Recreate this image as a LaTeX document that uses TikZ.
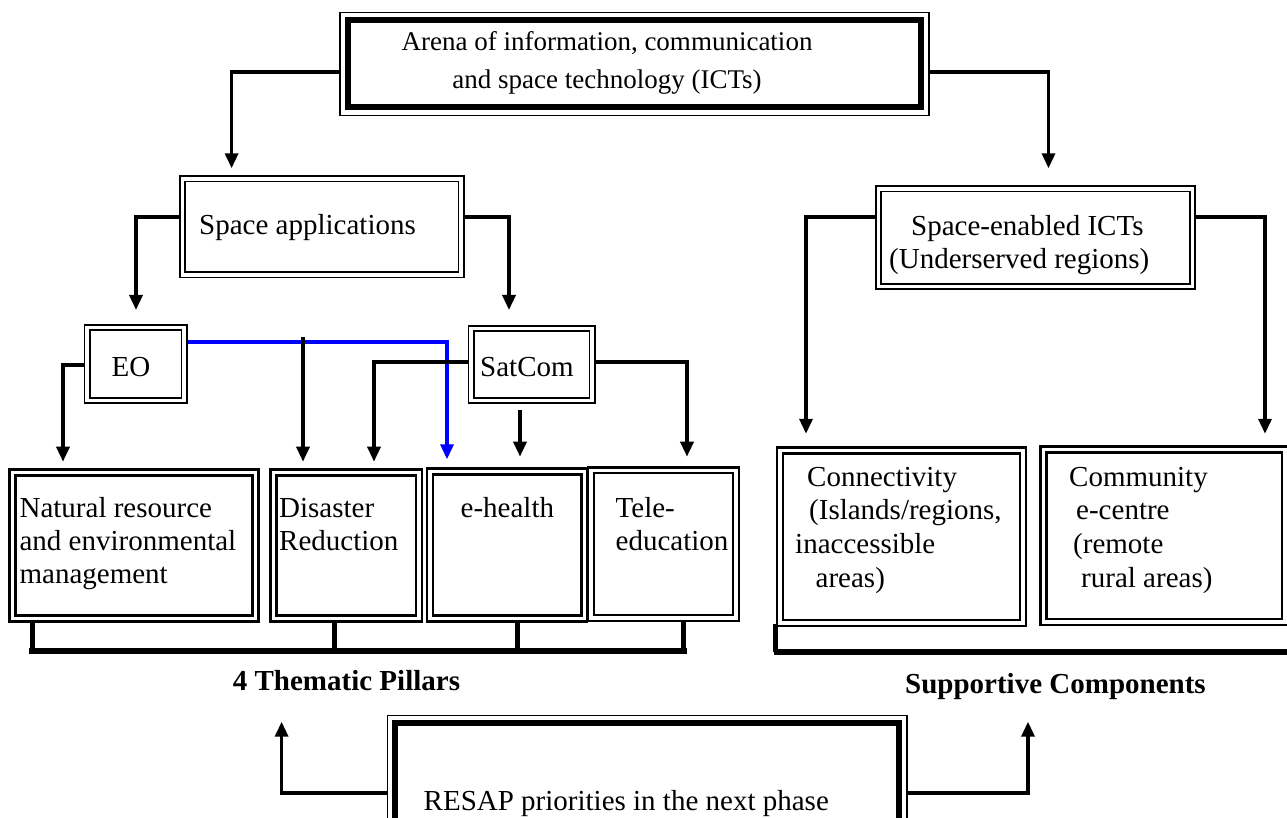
\documentclass[tikz,border=0pt]{standalone}
\usepackage{fontspec}
\setmainfont{Liberation Serif}
\usetikzlibrary{arrows.meta}
\definecolor{linkblue}{HTML}{0000FF}
\tikzset{
  fig/.style={x=1pt,y=1pt,line join=miter,>={Triangle[length=15pt,width=13pt]}},
  heavy/.style={draw,line width=6pt,inner sep=0pt,outer sep=8pt},
  thinrim/.style={draw,line width=1.2pt},
  dbl/.style={draw,line width=1.9pt,double=white,double distance=3.2pt,inner sep=0pt,outer sep=3.5pt},
  pillar/.style={draw,line width=2.4pt,double=white,double distance=3.4pt,inner sep=0pt,outer sep=4.1pt},
  txt/.style={font=\fontsize{29}{33}\selectfont,inner sep=0pt,align=left},
  lbl/.style={font=\fontsize{29}{33}\selectfont\bfseries,inner sep=0pt},
  link/.style={line width=3.4pt,->},
  tick/.style={line width=5pt},
  bar/.style={line width=6pt}
}
\begin{document}
\begin{tikzpicture}[fig]
  \useasboundingbox (0,0) rectangle (1287,817);
  \clip (0,0) rectangle (1287,817);
  % top and bottom boxes
  \node[heavy,minimum width=573,minimum height=87.2] (arena) at (634.5,753.1) {};
  \node[txt,align=center,font=\fontsize{27}{38}\selectfont,anchor=north] (arenatxt) at (607,793.6) {\strut Arena of information, communication\\and space technology (ICTs)};
  \node[heavy,minimum width=503.7,minimum height=126.7] (resap) at (647.2,30.35) {};
  \node[txt,anchor=base west] (resaptxt) at (423.5,7) {RESAP priorities in the next phase};
  \draw[thinrim] (arena.north west) rectangle (arena.south east);
  \draw[thinrim] (resap.north west) rectangle (resap.south east);
  % left branch
  \node[dbl,minimum width=278.5,minimum height=96] (spapp) at (321.75,590) {};
  \node[txt,anchor=base west] (spapptxt) at (199,582) {Space applications};
  \node[dbl,minimum width=97,minimum height=73] (eo) at (135.5,453) {};
  \node[txt,anchor=base west] (eotxt) at (111.5,440.3) {EO};
  \node[dbl,minimum width=121,minimum height=72] (satcom) at (531.5,452.5) {};
  \node[txt,anchor=base west] (satcomtxt) at (480,440.3) {SatCom};
  \node[pillar,minimum width=243,minimum height=146] (nr) at (134,271.5) {};
  \node[txt,anchor=north west] (nrtxt) at (19.4,323.1) {\strut Natural resource\\and environmental\\management};
  \node[pillar,minimum width=145.4,minimum height=146] (dr) at (346.1,271.5) {};
  \node[txt,anchor=north west] (drtxt) at (279,323.1) {\strut Disaster\\Reduction};
  \node[pillar,minimum width=154.4,minimum height=147] (eh) at (507,272) {};
  \node[txt,anchor=north west] (ehtxt) at (460.5,323.1) {\strut e-health};
  \node[pillar,minimum width=145,minimum height=147.6] (te) at (663.5,272.8) {};
  \node[txt,anchor=north west] (tetxt) at (615.5,323.1) {\strut Tele-\\education};
  % right branch
  \node[dbl,minimum width=314,minimum height=97.5] (spen) at (1035.5,579.25) {};
  \node[txt,anchor=north west,font=\fontsize{29}{32.5}\selectfont] (spentxt) at (889,604.25) {\strut\hspace*{22pt}Space-enabled ICTs\\(Underserved regions)};
  \node[pillar,minimum width=243,minimum height=172.5] (cnx) at (901.5,280.25) {};
  \node[txt,anchor=north west,font=\fontsize{29}{33.7}\selectfont] (cnxtxt) at (795,354.6) {\strut\hspace*{12pt}Connectivity\\\hspace*{14pt}(Islands/regions,\\inaccessible\\\hspace*{20.5pt}areas)};
  \node[pillar,minimum width=241.5,minimum height=172.5] (cec) at (1164.25,281.25) {};
  \node[txt,anchor=north west,font=\fontsize{29}{33.7}\selectfont] (cectxt) at (1069,354.6) {\strut Community\\\hspace*{7pt}e-centre\\\hspace*{4pt}(remote\\\hspace*{12pt}rural areas)};
  % arrow ends
  \coordinate (a1) at (231.6,648.7);
  \coordinate (a2) at (1048.5,648.7);
  \coordinate (s1) at (136,507);
  \coordinate (s2) at (509,507);
  \coordinate (e1) at (63,355.3);
  \coordinate (e2) at (447,357.7);
  \coordinate (e3) at (303,480);
  \coordinate (e3t) at (303,355.3);
  \coordinate (c1) at (374,355.3);
  \coordinate (c2) at (520,360.3);
  \coordinate (c3) at (687,360.3);
  \coordinate (n1) at (806,383.2);
  \coordinate (n2) at (1265,383.2);
  \coordinate (r1) at (281.6,95.3);
  \coordinate (r2) at (1028,95.3);
  \draw[link] ([yshift=-8pt]arena.west) -| (a1);
  \draw[link] ([yshift=-8pt]arena.east) -| (a2);
  \draw[link] ([yshift=10pt]spapp.west) -| (s1);
  \draw[link] ([yshift=10pt]spapp.east) -| (s2);
  \draw[link] ([yshift=-1pt]eo.west) -| (e1);
  \draw[link,linkblue] ([yshift=22pt]eo.east) -| (e2);
  \draw[link] (e3) -- (e3t);
  \draw[link] ([yshift=2.5pt]satcom.west) -| (c1);
  \draw[link] ([xshift=-11.5pt,yshift=-6pt]satcom.south) -- (c2);
  \draw[link] ([yshift=2.5pt]satcom.east) -| (c3);
  \draw[link] ([yshift=20.75pt]spen.west) -| (n1);
  \draw[link] ([yshift=20.75pt]spen.east) -| (n2);
  \draw[link] ([yshift=-6.35pt]resap.west) -| (r1);
  \draw[link] ([yshift=-6.35pt]resap.east) -| (r2);
  % brackets
  \draw[tick] ([xshift=-101.5pt]nr.south) -- ++(0,-30);
  \draw[tick] ([xshift=-11.6pt]dr.south) -- ++(0,-30);
  \draw[tick] ([xshift=10.7pt]eh.south) -- ++(0,-30);
  \draw[tick] ([xshift=20pt]te.south) -- ++(0,-30);
  \draw[tick] ([xshift=-126.5pt,yshift=3pt]cnx.south) -- ++(0,-28);
  \draw[bar] (29,166) -- (687,166);
  \draw[bar] (773.5,165) -- (1287,165);
  \node[lbl,anchor=base west] (pillarslbl) at (232.7,127) {4 Thematic Pillars};
  \node[lbl,anchor=base west] (supportlbl) at (905,123.7) {Supportive Components};
\end{tikzpicture}
\end{document}
